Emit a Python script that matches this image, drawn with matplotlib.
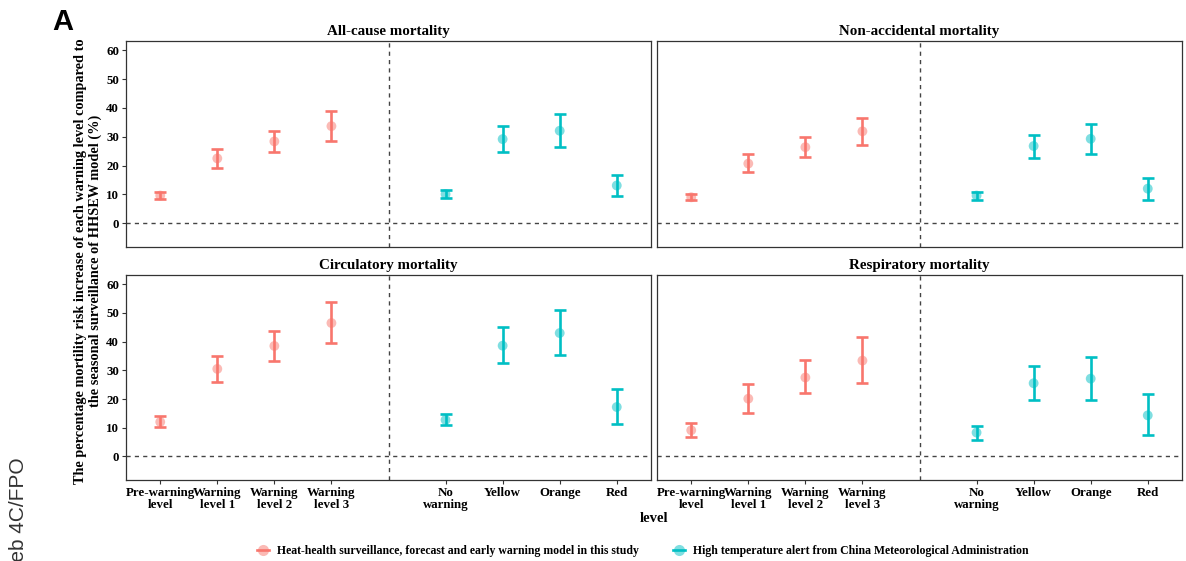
import matplotlib.pyplot as plt
from matplotlib.lines import Line2D
from matplotlib.legend_handler import HandlerTuple

plt.rcParams['font.family'] = ['Liberation Serif', 'DejaVu Serif']
plt.rcParams['font.weight'] = 'bold'

hhsew_levels = ['Pre-warning\nlevel', 'Warning\nlevel 1', 'Warning\nlevel 2', 'Warning\nlevel 3']
cma_levels = ['No\nwarning', 'Yellow', 'Orange', 'Red']
titles = ['All-cause mortality', 'Non-accidental mortality', 'Circulatory mortality', 'Respiratory mortality']

# point estimate, lower and upper 95% CI (%) for each panel
allcause_hhsew = [9.6, 22.5, 28.4, 33.7]
allcause_hhsew_lo = [8.5, 19.3, 24.6, 28.7]
allcause_hhsew_hi = [10.8, 25.8, 32.1, 39.0]
allcause_cma = [10.1, 29.2, 32.1, 13.1]
allcause_cma_lo = [8.6, 24.6, 26.4, 9.3]
allcause_cma_hi = [11.5, 33.6, 37.9, 16.9]

nonacc_hhsew = [9.0, 20.7, 26.4, 31.9]
nonacc_hhsew_lo = [7.9, 17.7, 22.9, 27.0]
nonacc_hhsew_hi = [10.3, 23.9, 29.9, 36.6]
nonacc_cma = [9.6, 26.8, 29.3, 12.0]
nonacc_cma_lo = [8.2, 22.6, 24.1, 8.2]
nonacc_cma_hi = [11.0, 30.7, 34.5, 15.8]

circ_hhsew = [12.0, 30.5, 38.5, 46.5]
circ_hhsew_lo = [10.4, 26.1, 33.4, 39.4]
circ_hhsew_hi = [13.9, 35.0, 43.7, 54.0]
circ_cma = [12.7, 38.6, 43.0, 17.2]
circ_cma_lo = [10.9, 32.4, 35.4, 11.3]
circ_cma_hi = [14.7, 45.2, 50.9, 23.5]

resp_hhsew = [9.1, 20.1, 27.5, 33.4]
resp_hhsew_lo = [6.7, 15.0, 22.0, 25.7]
resp_hhsew_hi = [11.6, 25.3, 33.5, 41.5]
resp_cma = [8.3, 25.5, 27.1, 14.3]
resp_cma_lo = [5.8, 19.8, 19.8, 7.3]
resp_cma_hi = [10.6, 31.4, 34.7, 21.6]

RED = '#F8766D'
CYAN = '#00BFC4'
BORDER = '#333333'

panel_data = [
    (allcause_hhsew, allcause_hhsew_lo, allcause_hhsew_hi, allcause_cma, allcause_cma_lo, allcause_cma_hi),
    (nonacc_hhsew, nonacc_hhsew_lo, nonacc_hhsew_hi, nonacc_cma, nonacc_cma_lo, nonacc_cma_hi),
    (circ_hhsew, circ_hhsew_lo, circ_hhsew_hi, circ_cma, circ_cma_lo, circ_cma_hi),
    (resp_hhsew, resp_hhsew_lo, resp_hhsew_hi, resp_cma, resp_cma_lo, resp_cma_hi),
]

categories = hhsew_levels + [''] + cma_levels
xpos = {c: i + 1 for i, c in enumerate(categories)}
x_h = [xpos[c] for c in hhsew_levels]
x_c = [xpos[c] for c in cma_levels]
x_gap = xpos['']

W, H = 1186, 561
fig = plt.figure(figsize=(W / 100, H / 100), dpi=100)

boxes = [(126, 41, 247), (657, 41, 247), (126, 275, 480), (657, 275, 480)]
pw = 525


def draw_series(ax, x, est, lo, hi, color):
    yerr = [[e - l for e, l in zip(est, lo)], [h - e for e, h in zip(est, hi)]]
    ax.errorbar(x, est, yerr=yerr, fmt='none', ecolor=color, elinewidth=1.9,
                capsize=4.5, capthick=1.9, zorder=3)
    ax.scatter(x, est, s=50, color=color, alpha=0.5, edgecolors='none', zorder=4)


for i, (left, top, bottom) in enumerate(boxes):
    ax = fig.add_axes([left / W, 1 - bottom / H, pw / W, (bottom - top) / H])
    h, hl, hh, c, cl, ch = panel_data[i]
    draw_series(ax, x_h, h, hl, hh, RED)
    draw_series(ax, x_c, c, cl, ch, CYAN)

    ax.axhline(0, color='#444444', lw=1.0, ls=(0, (3, 3)), zorder=1)
    ax.axvline(x_gap, color='#444444', lw=1.0, ls=(0, (3, 3)), zorder=1)

    ax.set_xlim(0.4, 9.6)
    ax.set_ylim(-8.25, 63.25)
    ax.set_title(titles[i], fontsize=10.8, fontweight='bold', pad=4)

    for s in ax.spines.values():
        s.set_color(BORDER)
        s.set_linewidth(0.9)
    ax.tick_params(length=3, width=0.8, color=BORDER, labelsize=9.3, labelcolor='black', pad=2)

    if i % 2 == 0:
        ax.set_yticks(range(0, 61, 10))
    else:
        ax.set_yticks([])
    if i >= 2:
        ax.set_xticks(x_h + x_c)
        ax.set_xticklabels(hhsew_levels + cma_levels, linespacing=1.05)
    else:
        ax.set_xticks([])

fig.text(88 / W, 1 - 261 / H,
         'The percentage mortility risk increase of each warning level compared to\n'
         'the seasonal surveillance of HHSEW model (%)',
         rotation=90, ha='center', va='center', fontsize=10.3, fontweight='bold',
         linespacing=1.2)
fig.text(654 / W, 1 - 519 / H, 'level', ha='center', va='center', fontsize=10.5, fontweight='bold')

fig.text(63 / W, 1 - 22 / H, 'A', ha='center', va='center', fontsize=21,
         fontweight='bold', family='Liberation Sans')
# label runs off the bottom edge in the original too
fig.text(19 / W, 1 - 457 / H, 'Web 4C/FPO', rotation=90, ha='center', va='top',
         fontsize=15, fontweight='normal', family='Liberation Sans', color='#333333')

handles = []
for col in (RED, CYAN):
    line = Line2D([0], [0], color=col, lw=1.9)
    dot = Line2D([0], [0], color=col, marker='o', markersize=8, alpha=0.5,
                 lw=0, markeredgewidth=0)
    handles.append((line, dot))
fig.legend(handles,
           ['Heat-health surveillance, forecast and early warning model in this study',
            'High temperature alert from China Meteorological Administration'],
           handler_map={tuple: HandlerTuple(ndivide=1)},
           loc='center', bbox_to_anchor=(643 / W, 1 - 551 / H), ncol=2, frameon=False,
           fontsize=8.5, handlelength=1.0, handletextpad=0.7, columnspacing=2.9)

fig.savefig('out.png', dpi=100)
